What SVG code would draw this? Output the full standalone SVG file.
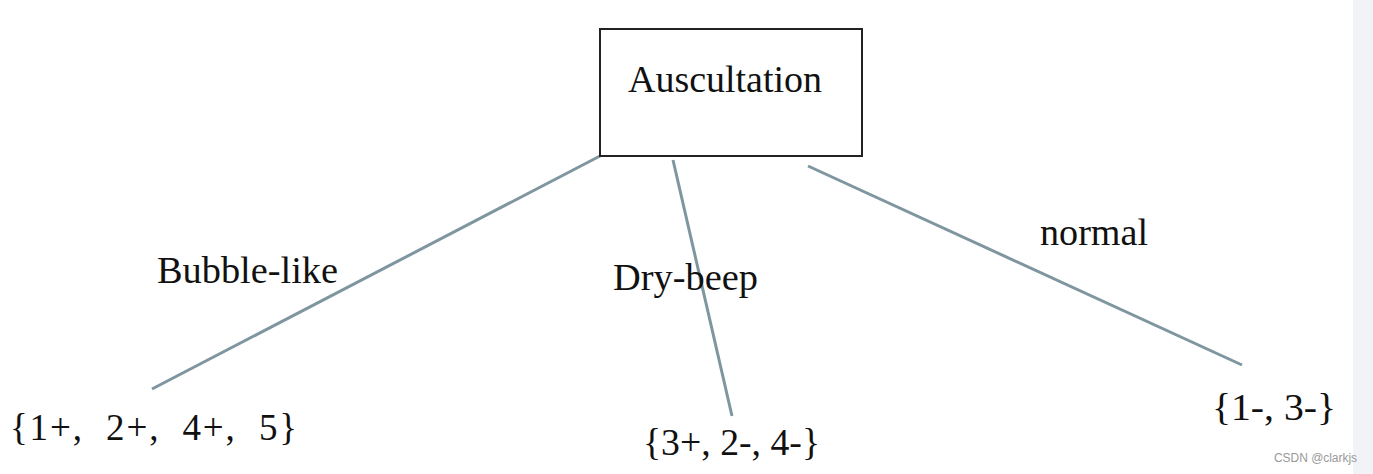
<svg xmlns="http://www.w3.org/2000/svg" width="1373" height="474" viewBox="0 0 1373 474">
<style>
.t{font-family:"Liberation Serif","Times New Roman",serif;font-size:37px;fill:#111}
.e{stroke:#7f959f;stroke-width:3;fill:none}
</style>
<rect width="1373" height="474" fill="#ffffff"/>
<rect x="1353" y="0" width="20" height="474" fill="#f2f3f7"/>
<g id="connectors">
<line class="e" x1="600" y1="156" x2="152" y2="389"/>
<line class="e" x1="673" y1="160" x2="732" y2="416"/>
<line class="e" x1="808" y1="166" x2="1242" y2="365"/>
</g>
<g id="node-auscultation">
<rect x="600" y="29" width="262" height="127" fill="#fff" stroke="#222" stroke-width="2"/>
<text class="t" x="628" y="92" textLength="194" lengthAdjust="spacingAndGlyphs">Auscultation</text>
</g>
<g id="label-bubble"><text class="t" x="157" y="283" textLength="181" lengthAdjust="spacingAndGlyphs">Bubble-like</text></g>
<g id="label-dry"><text class="t" x="613" y="290" textLength="145" lengthAdjust="spacingAndGlyphs">Dry-beep</text></g>
<g id="label-normal"><text class="t" x="1040" y="245" textLength="108" lengthAdjust="spacingAndGlyphs">normal</text></g>
<g id="node-left"><text class="t" x="10" y="440" textLength="287" lengthAdjust="spacing" xml:space="preserve">{1+,  2+,  4+,  5}</text></g>
<g id="node-mid"><text class="t" x="643" y="455" textLength="177" lengthAdjust="spacingAndGlyphs">{3+, 2-, 4-}</text></g>
<g id="node-right"><text class="t" x="1212" y="420" textLength="124" lengthAdjust="spacingAndGlyphs">{1-, 3-}</text></g>
<text x="1274" y="462" font-family="'Liberation Sans',Arial,sans-serif" font-size="12" fill="#999" textLength="83">CSDN @clarkjs</text>
</svg>
